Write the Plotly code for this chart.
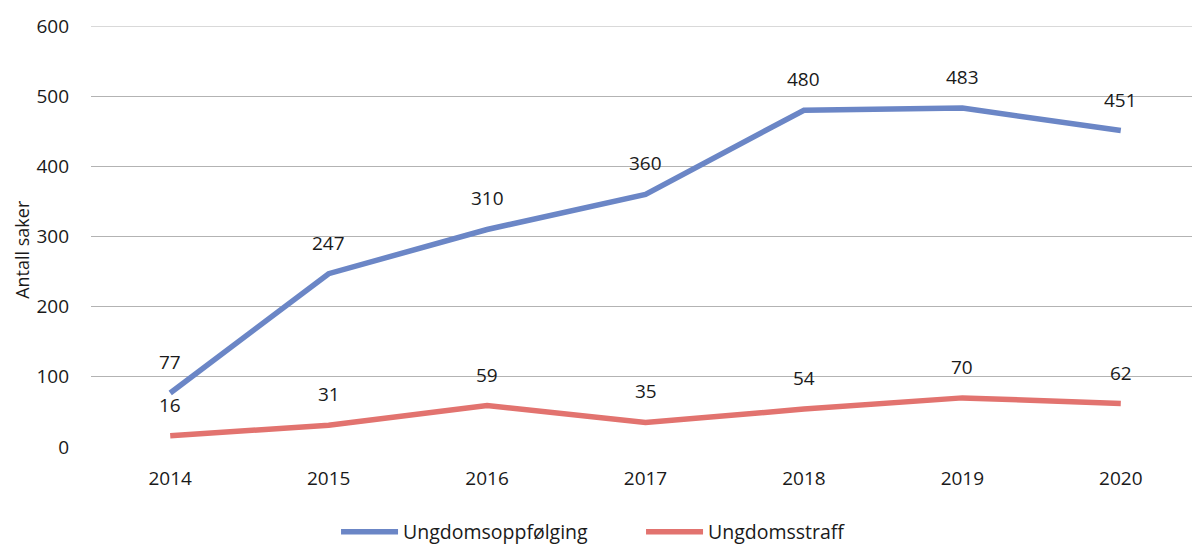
import plotly.graph_objects as go

years = ["2014", "2015", "2016", "2017", "2018", "2019", "2020"]
ungdomsoppfolging = [77, 247, 310, 360, 480, 483, 451]
ungdomsstraff = [16, 31, 59, 35, 54, 70, 62]
series_names = ["Ungdomsoppfølging", "Ungdomsstraff"]
colors = ["#6b86c6", "#e2736f"]

FONT = "Open Sans"
TXT = "#1a1a1a"
GRID = "#b3b3b3"
fig = go.Figure()
for name, vals, col in zip(series_names, [ungdomsoppfolging, ungdomsstraff], colors):
    fig.add_trace(go.Scatter(x=years, y=vals, mode="lines", name=name,
                             line=dict(color=col, width=5.5)))
    for i, v in enumerate(vals):
        fig.add_annotation(x=i, y=v, xref="x", yref="y", text=str(v), showarrow=False,
                           yshift=31, font=dict(family=FONT, size=19, color=TXT))

# y-axis title
fig.add_annotation(text="Antall saker", textangle=-90, xref="paper", yref="paper",
                   x=-0.0625, y=0.47, xanchor="center", yanchor="middle",
                   showarrow=False, borderpad=0,
                   font=dict(family=FONT, size=18, color=TXT))
# top gridline (plotly drops gridlines at the plot edge)
fig.add_shape(type="line", xref="paper", yref="y", x0=0, x1=1, y0=600, y1=600,
              line=dict(color=GRID, width=1), layer="below")

fig.update_layout(
    width=1192, height=550,
    margin=dict(l=83, r=0, t=18, b=111, autoexpand=False),
    paper_bgcolor="white", plot_bgcolor="white",
    font=dict(family=FONT, size=19, color=TXT),
    showlegend=True,
    legend=dict(orientation="h", xref="container", x=0.2752, xanchor="left",
                yref="container", y=0.047, yanchor="middle",
                font=dict(family=FONT, size=19.5), itemwidth=57,
                tracegroupgap=0, entrywidthmode="pixels", entrywidth=233),
)
fig.update_xaxes(type="category", range=[-0.5, 6.5], autorange=False,
                 showgrid=False, showline=False, ticks="",
                 tickfont=dict(family=FONT, size=19), ticklabelstandoff=18)
fig.update_yaxes(range=[0, 600], autorange=False, dtick=100, showgrid=True,
                 gridcolor=GRID, gridwidth=1, zeroline=False, showline=False,
                 ticks="", ticklen=0, tickfont=dict(family=FONT, size=19),
                 ticklabelstandoff=21)

fig.write_html("out.html")
